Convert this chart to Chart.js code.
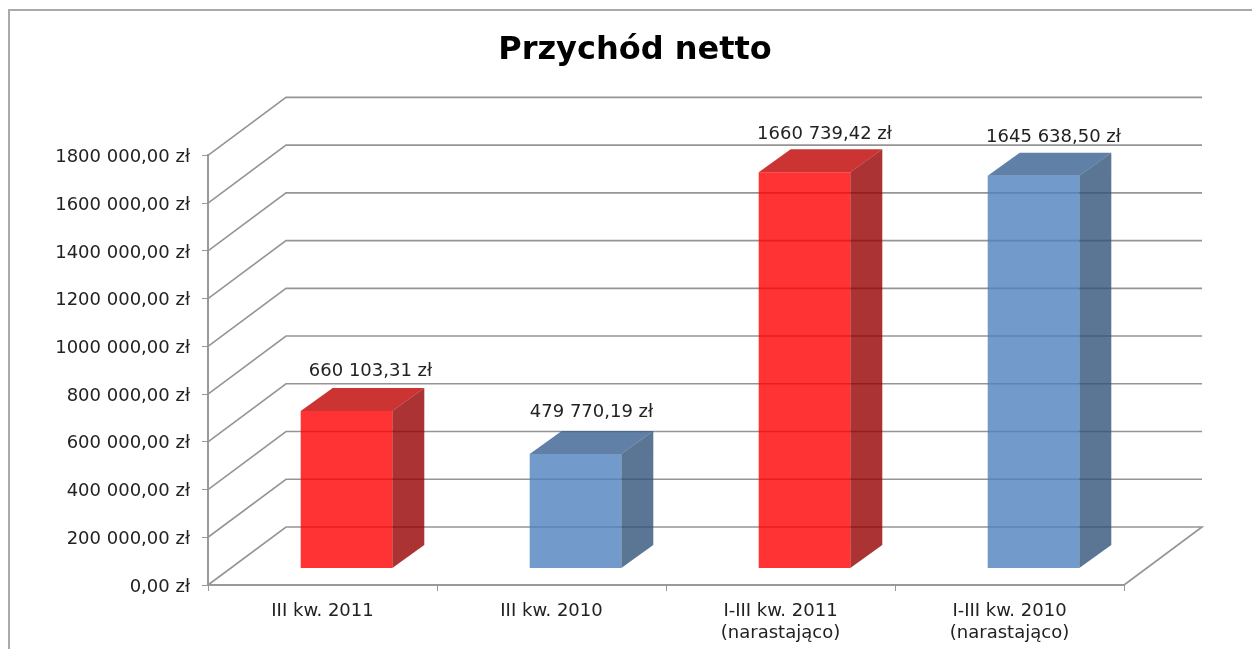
<!DOCTYPE html>
<html lang="pl">
<head>
<meta charset="utf-8">
<title>Przychód netto</title>
<script src="https://cdn.jsdelivr.net/npm/chart.js@4/dist/chart.umd.min.js"></script>
<style>
html, body { margin: 0; padding: 0; width: 1252px; height: 649px; overflow: hidden; background: #fff; }
#frame { position: absolute; left: 8px; top: 9px; width: 1300px; height: 700px; border: 2px solid #aaa; }
#wrap { position: absolute; left: 0; top: 0; width: 1252px; height: 649px; }
</style>
</head>
<body>
<div id="frame"></div>
<div id="wrap"><canvas id="Chart" width="1252" height="649"></canvas></div>
<script>
const categories = ['III kw. 2011', 'III kw. 2010', ['I-III kw. 2011', '(narastająco)'], ['I-III kw. 2010', '(narastająco)']];
const values = [660103.31, 479770.19, 1660739.42, 1645638.50];
const valueLabels = ['660 103,31 zł', '479 770,19 zł', '1660 739,42 zł', '1645 638,50 zł'];
const yTickLabels = ['0,00 zł', '200 000,00 zł', '400 000,00 zł', '600 000,00 zł', '800 000,00 zł', '1000 000,00 zł',
    '1200 000,00 zł', '1400 000,00 zł', '1600 000,00 zł', '1800 000,00 zł'];

// colours for each bar: front, top, side
const frontColors = ['rgba(255,0,0,0.8)', 'rgba(79,129,189,0.8)', 'rgba(255,0,0,0.8)', 'rgba(79,129,189,0.8)'];
const topColors = ['rgba(191,0,0,0.8)', 'rgba(56,96,146,0.8)', 'rgba(191,0,0,0.8)', 'rgba(56,96,146,0.8)'];
const sideColors = ['rgba(150,0,0,0.8)', 'rgba(50,82,122,0.8)', 'rgba(150,0,0,0.8)', 'rgba(50,82,122,0.8)'];

const FONT = '"DejaVu Sans", Verdana, sans-serif';
const wall = { dx: 78, dy: -58 };   // back wall offset from the axis plane
const barShift = { dx: 24, dy: -16.5 };   // bars stand a bit inside the floor
const depth = { dx: 32, dy: -23 };   // depth of a bar
// the value labels are not placed evenly in the original
const labelNudge = [8, 0, 4, 4];
const labelLift = [16.5, 18.5, 14.5, 15.5];

function poly(ctx, color, pts) {
    ctx.fillStyle = color;
    ctx.beginPath();
    pts.forEach((p, i) => i ? ctx.lineTo(p[0], p[1]) : ctx.moveTo(p[0], p[1]));
    ctx.closePath();
    ctx.fill();
}

const fake3d = {
    id: 'fake3d',
    beforeDatasetsDraw(chart) {
        const { ctx, chartArea, scales } = chart;
        // walls and floor
        ctx.save();
        ctx.strokeStyle = '#959595';
        ctx.lineWidth = 1.6;
        scales.y.ticks.forEach((t) => {
            const y = scales.y.getPixelForValue(t.value);
            ctx.beginPath();
            ctx.moveTo(chartArea.left, y);
            ctx.lineTo(chartArea.left + wall.dx, y + wall.dy);
            ctx.lineTo(chartArea.right + wall.dx, y + wall.dy);
            if (t.value === 0) ctx.lineTo(chartArea.right, y);
            ctx.stroke();
        });
        ctx.restore();

        // bars are translated here, restored after the datasets are drawn
        ctx.save();
        ctx.translate(barShift.dx, barShift.dy);
        chart.getDatasetMeta(0).data.forEach((bar, i) => {
            const p = bar.getProps(['x', 'y', 'base', 'width'], true);
            const l = p.x - p.width / 2, r = p.x + p.width / 2;
            poly(ctx, topColors[i], [[l, p.y], [r, p.y], [r + depth.dx, p.y + depth.dy], [l + depth.dx, p.y + depth.dy]]);
            poly(ctx, sideColors[i], [[r, p.y], [r + depth.dx, p.y + depth.dy], [r + depth.dx, p.base + depth.dy], [r, p.base]]);
        });
    },
    afterDatasetsDraw(chart) {
        const { ctx } = chart;
        ctx.restore();
        ctx.save();
        ctx.font = '18px ' + FONT;
        ctx.fillStyle = '#222';
        ctx.textAlign = 'center';
        ctx.textBaseline = 'middle';
        chart.getDatasetMeta(0).data.forEach((bar, i) => {
            const p = bar.getProps(['x', 'y', 'width'], true);
            const x = p.x + barShift.dx + depth.dx / 2 + labelNudge[i];
            const y = p.y + barShift.dy + depth.dy - labelLift[i];
            ctx.fillText(valueLabels[i], x, y);
        });
        ctx.restore();
    }
};

const myChart = new Chart(document.getElementById('Chart').getContext('2d'), {
    type: 'bar',
    data: {
        labels: categories,
        datasets: [{
            data: values,
            backgroundColor: frontColors,
            borderWidth: 0,
            barPercentage: 0.4,
            categoryPercentage: 1,
            clip: false
        }]
    },
    options: {
        responsive: false,
        animation: false,
        layout: { padding: { left: 18, right: 0, top: 0, bottom: 0 } },
        plugins: {
            legend: { display: false },
            tooltip: { enabled: false },
            title: {
                display: true,
                text: 'Przychód netto',
                color: '#000',
                font: { family: FONT, size: 32, weight: 'bold', lineHeight: 1.2 },
                padding: { top: 31, bottom: 86 }
            }
        },
        scales: {
            x: {
                afterFit(s) { s.height = 64; },
                border: { color: '#999', width: 2 },
                grid: { drawOnChartArea: false, color: '#999', tickLength: 6 },
                ticks: {
                    color: '#222',
                    font: { family: FONT, size: 18, lineHeight: 1.22 },
                    padding: 9,
                    autoSkip: false,
                    maxRotation: 0
                }
            },
            y: {
                min: 0,
                max: 1800000,
                afterFit(s) { s.width = 190; },
                border: { color: '#999', width: 2 },
                grid: { drawOnChartArea: false, color: '#999', tickLength: 6 },
                ticks: {
                    stepSize: 200000,
                    color: '#222',
                    font: { family: FONT, size: 18 },
                    padding: 12,
                    labelOffset: 2,
                    callback(value, index) { return yTickLabels[index]; }
                }
            },
            // empty axis, only keeps the right margin so the title stays centred on the whole frame
            margin: {
                position: 'right',
                afterFit(s) { s.width = 128; },
                border: { display: false },
                grid: { display: false },
                ticks: { display: false }
            }
        }
    },
    plugins: [fake3d]
});
</script>
</body>
</html>
